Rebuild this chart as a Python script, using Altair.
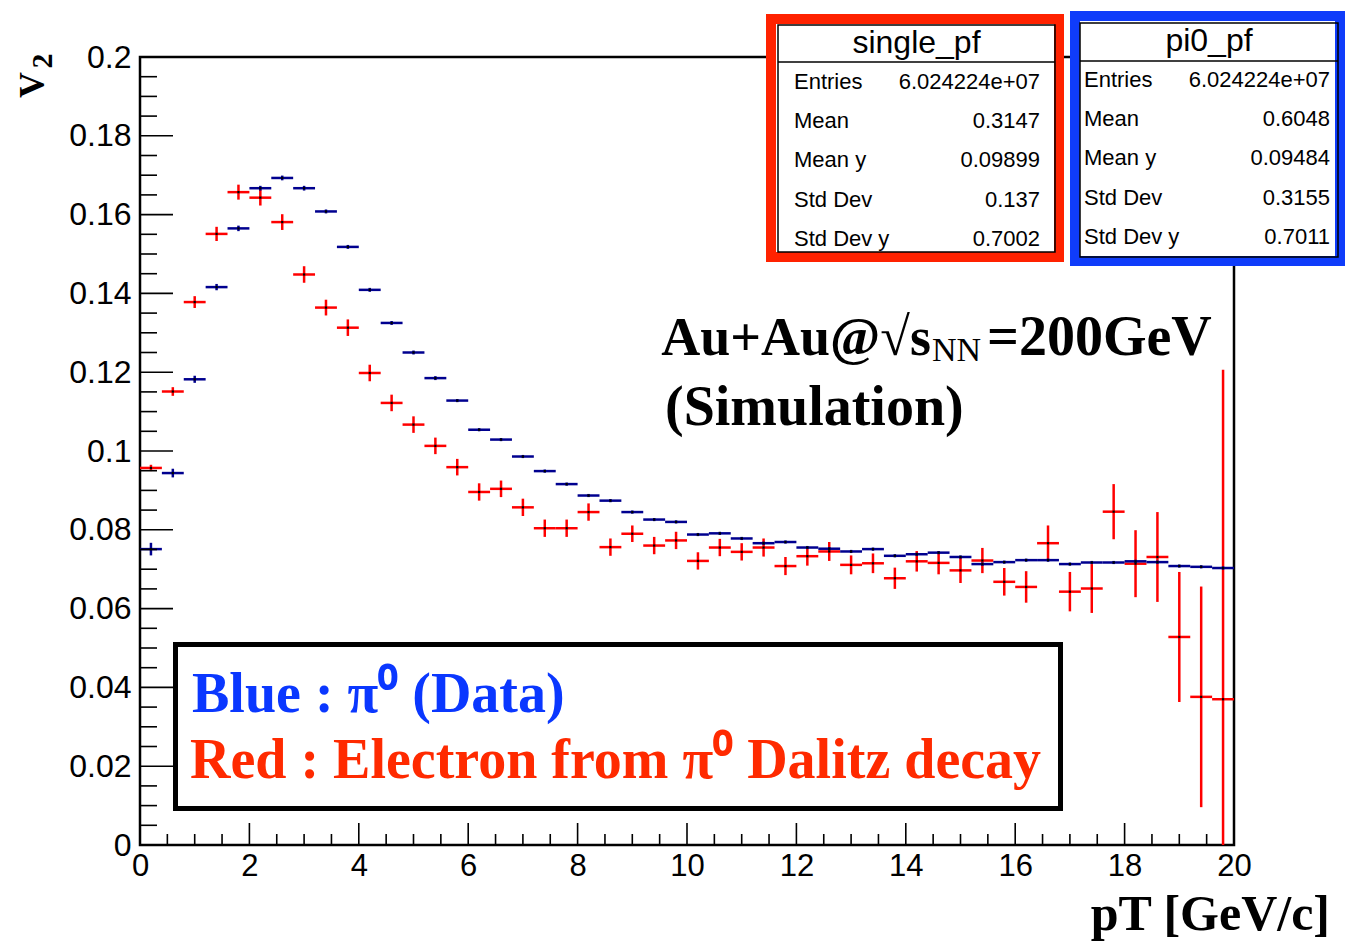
import altair as alt
import pandas as pd

# ---------------- data ----------------
pt = [0.2, 0.6, 1.0, 1.4, 1.8, 2.2, 2.6, 3.0, 3.4, 3.8,
      4.2, 4.6, 5.0, 5.4, 5.8, 6.2, 6.6, 7.0, 7.4, 7.8,
      8.2, 8.6, 9.0, 9.4, 9.8, 10.2, 10.6, 11.0, 11.4, 11.8,
      12.2, 12.6, 13.0, 13.4, 13.8, 14.2, 14.6, 15.0, 15.4, 15.8,
      16.2, 16.6, 17.0, 17.4, 17.8, 18.2, 18.6, 19.0, 19.4, 19.8]
half_bin = 0.2

blue_v2 = [0.0751, 0.0944, 0.1182, 0.1416, 0.1565, 0.1667, 0.1693, 0.1667, 0.1608, 0.1518,
           0.1409, 0.1325, 0.1250, 0.1185, 0.1128, 0.1054, 0.1029, 0.0986, 0.0949, 0.0916,
           0.0887, 0.0874, 0.0845, 0.0826, 0.0820, 0.0788, 0.0791, 0.0778, 0.0766, 0.0769,
           0.0755, 0.0752, 0.0745, 0.0751, 0.0734, 0.0738, 0.0742, 0.0731, 0.0713, 0.0718,
           0.0723, 0.0723, 0.0713, 0.0717, 0.0717, 0.0720, 0.0718, 0.0708, 0.0706, 0.0703]
blue_err = [0.0016, 0.0011, 0.0009, 0.0008, 0.0007, 0.0006, 0.0006, 0.0006, 0.0005, 0.0005,
            0.0005, 0.0005, 0.0005, 0.0005, 0.0004, 0.0004, 0.0004, 0.0004, 0.0004, 0.0004,
            0.0004, 0.0004, 0.0004, 0.0004, 0.0004, 0.0004, 0.0004, 0.0004, 0.0004, 0.0004,
            0.0004, 0.0004, 0.0004, 0.0004, 0.0004, 0.0004, 0.0004, 0.0004, 0.0004, 0.0004,
            0.0004, 0.0004, 0.0004, 0.0004, 0.0004, 0.0004, 0.0004, 0.0004, 0.0004, 0.0004]

red_v2 = [0.0957, 0.1151, 0.1378, 0.1551, 0.1657, 0.1643, 0.1581, 0.1448, 0.1364, 0.1313,
          0.1198, 0.1122, 0.1067, 0.1013, 0.0959, 0.0896, 0.0904, 0.0857, 0.0804, 0.0804,
          0.0845, 0.0756, 0.0790, 0.0760, 0.0773, 0.0721, 0.0755, 0.0744, 0.0755, 0.0708,
          0.0733, 0.0745, 0.0711, 0.0715, 0.0677, 0.0720, 0.0716, 0.0697, 0.0722, 0.0668,
          0.0655, 0.0766, 0.0643, 0.0651, 0.0846, 0.0714, 0.0731, 0.0528, 0.0376, 0.0370]
red_err = [0.0008, 0.0011, 0.0015, 0.0018, 0.0019, 0.0020, 0.0020, 0.0021, 0.0020, 0.0021,
           0.0021, 0.0021, 0.0021, 0.0021, 0.0021, 0.0022, 0.0021, 0.0022, 0.0022, 0.0022,
           0.0022, 0.0022, 0.0021, 0.0022, 0.0022, 0.0022, 0.0022, 0.0022, 0.0023, 0.0023,
           0.0024, 0.0024, 0.0024, 0.0025, 0.0027, 0.0026, 0.0029, 0.0032, 0.0032, 0.0035,
           0.0040, 0.0045, 0.0050, 0.0062, 0.0070, 0.0085, 0.0114, 0.0165, 0.0280, 0.0836]

x_tick_labels = [0, 2, 4, 6, 8, 10, 12, 14, 16, 18, 20]
y_tick_labels = [0, 0.02, 0.04, 0.06, 0.08, 0.1, 0.12, 0.14, 0.16, 0.18, 0.2]
x_minor = [i * 0.5 for i in range(41)]
y_minor = [round(i * 0.005, 3) for i in range(41)]

stat_labels = ["Entries", "Mean", "Mean y", "Std Dev", "Std Dev y"]
single_vals = ["6.024224e+07", "0.3147", "0.09899", "0.137", "0.7002"]
pi0_vals = ["6.024224e+07", "0.6048", "0.09484", "0.3155", "0.7011"]

# ---------------- styling ----------------
W, H = 1094, 788
SERIF = "Liberation Serif"
SANS = "Liberation Sans"
BLUE = "#00008f"
RED = "#ff0000"

df = pd.DataFrame({"pt": pt, "blue": blue_v2, "blue_err": blue_err,
                   "red": red_v2, "red_err": red_err})
df["lo"] = df["pt"] - half_bin
df["hi"] = df["pt"] + half_bin
df["blue_lo"] = df["blue"] - df["blue_err"]
df["blue_hi"] = df["blue"] + df["blue_err"]
df["red_lo"] = df["red"] - df["red_err"]
df["red_hi"] = df["red"] + df["red_err"]

xs = alt.Scale(domain=[0, 20], nice=False, zero=False)
ys = alt.Scale(domain=[0, 0.2], nice=False, zero=False)

xaxis = alt.Axis(values=x_tick_labels, format="d", ticks=False, domain=False, grid=False,
                 labelFont=SANS, labelFontSize=31, labelColor="black", labelPadding=6,
                 title=None, labelFlush=False)
yaxis = alt.Axis(values=y_tick_labels, format=".2~f", ticks=False, domain=False, grid=False,
                 labelFont=SANS, labelFontSize=32, labelColor="black", labelPadding=9,
                 title=None, labelFlush=False)

base = alt.Chart(df)

red_h = base.mark_rule(color=RED, strokeWidth=2.5).encode(
    x=alt.X("lo:Q", scale=xs, axis=xaxis), x2="hi:Q",
    y=alt.Y("red:Q", scale=ys, axis=yaxis))
red_v = base.mark_rule(color=RED, strokeWidth=2.5, clip=True).encode(
    x="pt:Q", y="red_lo:Q", y2="red_hi:Q")
blue_h = base.mark_rule(color=BLUE, strokeWidth=2.5).encode(
    x="lo:Q", x2="hi:Q", y="blue:Q")
blue_v = base.mark_rule(color=BLUE, strokeWidth=2.5).encode(
    x="pt:Q", y="blue_lo:Q", y2="blue_hi:Q")
red_dot = base.mark_square(color="black", size=5, opacity=1).encode(x="pt:Q", y="red:Q")
blue_dot = base.mark_square(color="black", size=5, opacity=1).encode(x="pt:Q", y="blue:Q")

# ticks drawn inside the frame (ROOT style)
xt_major = pd.DataFrame({"v": x_tick_labels})
xt_minor = pd.DataFrame({"v": [v for v in x_minor if v not in x_tick_labels]})
yt_major = pd.DataFrame({"v": y_tick_labels})
yt_minor = pd.DataFrame({"v": [v for v in y_minor if all(abs(v - t) > 1e-9 for t in y_tick_labels)]})

ticks = [
    alt.Chart(xt_major).mark_rule(color="black", strokeWidth=1.6).encode(
        x="v:Q", y=alt.value(H), y2=alt.value(H - 22)),
    alt.Chart(xt_minor).mark_rule(color="black", strokeWidth=1.6).encode(
        x="v:Q", y=alt.value(H), y2=alt.value(H - 11)),
    alt.Chart(yt_major).mark_rule(color="black", strokeWidth=1.6).encode(
        y="v:Q", x=alt.value(0), x2=alt.value(33)),
    alt.Chart(yt_minor).mark_rule(color="black", strokeWidth=1.6).encode(
        y="v:Q", x=alt.value(0), x2=alt.value(17)),
]

one = pd.DataFrame({"k": [0]})


def rect(x1, y1, x2, y2, stroke, sw, fill="white"):
    mk = dict(stroke=stroke, strokeWidth=sw)
    if fill is None:
        mk["fillOpacity"] = 0
        mk["fill"] = "white"
    else:
        mk["fill"] = fill
    return alt.Chart(one).mark_rect(**mk).encode(
        x=alt.value(x1), x2=alt.value(x2), y=alt.value(y1), y2=alt.value(y2))


def hline(x1, x2, y, sw=1.5):
    return alt.Chart(one).mark_rule(color="black", strokeWidth=sw).encode(
        x=alt.value(x1), x2=alt.value(x2), y=alt.value(y))


def text(s, x, y, size, font=SANS, color="black", align="left", weight="normal",
         baseline="alphabetic", angle=0):
    return alt.Chart(one).mark_text(text=s, font=font, fontSize=size, color=color,
                                    align=align, fontWeight=weight, baseline=baseline,
                                    angle=angle).encode(x=alt.value(x), y=alt.value(y))


ann = []
# ---- stats box: single_pf (red frame) ----
ann.append(rect(631, -38, 919, 200, "#ff2200", 10))
ann.append(rect(638, -32, 915, 195, "black", 1.5, fill=None))
ann.append(hline(638, 915, 5))
ann.append(text("single_pf", 776.5, -4, 32, align="center"))
for i, (lab, val) in enumerate(zip(stat_labels, single_vals)):
    yy = [25, 64, 103, 143, 182][i]
    ann.append(text(lab, 654, yy, 22, baseline="middle"))
    ann.append(text(val, 900, yy, 22, baseline="middle", align="right"))
# ---- stats box: pi0_pf (blue frame) ----
ann.append(rect(935, -41, 1200, 204, "#0f3cfa", 10))
ann.append(rect(940, -34, 1198, 200, "black", 1.5, fill=None))
ann.append(hline(940, 1198, 4))
ann.append(text("pi0_pf", 1069, -6, 32, align="center"))
for i, (lab, val) in enumerate(zip(stat_labels, pi0_vals)):
    yy = [23, 62, 101, 141, 180][i]
    ann.append(text(lab, 944, yy, 22, baseline="middle"))
    ann.append(text(val, 1190, yy, 22, baseline="middle", align="right"))

# ---- legend box ----
ann.append(rect(35.5, 587.5, 920.5, 751.5, "black", 5))
ann.append(text("Blue : π⁰ (Data)", 52, 655, 56, font=SERIF, color="#0a37ff", weight="bold"))
ann.append(text("Red : Electron from π⁰ Dalitz decay", 50, 721, 56, font=SERIF,
                color="#ff2a00", weight="bold"))

# ---- collision label ----
ann.append(text("Au+Au@√s", 791, 298, 54, font=SERIF, weight="bold", align="right"))
ann.append(text("NN", 792, 304, 34, font=SERIF))
ann.append(text("=200GeV", 847, 298, 56, font=SERIF, weight="bold"))
ann.append(text("(Simulation)", 525, 368, 56, font=SERIF, weight="bold"))

# ---- axis titles ----
ann.append(text("pT [GeV/c]", 1190, 873, 50, font=SERIF, weight="bold", align="right"))
ann.append(text("V", -96, 28, 36, font=SERIF, weight="bold", align="center", angle=270))
ann.append(text("2", -88, 4, 30, font=SERIF, weight="bold", align="center", angle=270))

chart = alt.layer(red_h, red_v, blue_h, blue_v, red_dot, blue_dot, *ticks, *ann).properties(
    width=W, height=H,
    autosize=alt.AutoSizeParams(type="none"),
    padding={"left": 140, "top": 57, "right": 111, "bottom": 97},
    background="white",
).configure_view(stroke="black", strokeWidth=2.5)

chart.save("out.html", embed_options={"renderer": "svg", "actions": False})
